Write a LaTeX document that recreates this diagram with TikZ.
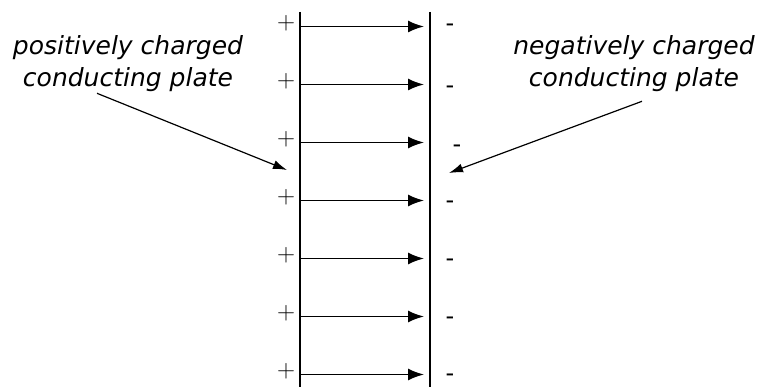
\documentclass[tikz,border=0pt]{standalone}
\usepackage{fontspec}
\newfontfamily\labelfont{DejaVu Sans}
\usetikzlibrary{arrows.meta,positioning}
\tikzset{
  plate/.style={line width=2.4pt,black},
  field/.style={-{Latex[length=16pt,width=12pt]},line width=1.7pt,black,shorten >=6pt},
  pointer/.style={-{Latex[length=14pt,width=9pt]},line width=1.2pt,black},
  plus/.style={inner sep=0pt,anchor=base,font=\fontsize{25}{25}\selectfont},
  minus/.style={inner sep=0pt,anchor=base,font=\labelfont\fontsize{24}{24}\selectfont},
  caption/.style={inner sep=0pt,align=center,font=\labelfont\itshape\fontsize{25}{32}\selectfont},
}

\begin{document}
\begin{tikzpicture}[x=1pt,y=-1pt]
  \useasboundingbox (0,0) rectangle (761,387);
  % the two plates
  \coordinate (ptop) at (300,12);
  \coordinate (pbot) at (300,387);
  \coordinate (ntop) at (430,12);
  \coordinate (nbot) at (430,387);
  \draw[plate] (ptop) -- (pbot);
  \draw[plate] (ntop) -- (nbot);
  % field lines with charges
  \foreach \k/\dx/\dy in {0/0/-1,1/0/3,2/7/4,3/0/2,4/0/2,5/0/2,6/0/1}{
    \coordinate (p\k) at (300,26.5+58*\k);
    \coordinate (n\k) at (430,26.5+58*\k);
    \draw[field] (p\k) -- (n\k);
    \node[plus] (plus\k) at ([xshift=-14pt,yshift=-3.5pt]p\k) {+};
    \node[minus] (minus\k) at ([xshift=20pt+\dx,yshift=-\dy-6.5pt]n\k) {-};
  }
  % labels
  \node[caption] (poslabel) at (128,63.5) {positively charged\\conducting plate};
  \node[caption] (neglabel) at (634,63.5) {negatively charged\\conducting plate};
  \coordinate (posend) at (287,170);
  \coordinate (negend) at (449,173);
  \draw[pointer] ([xshift=-31pt,yshift=-1.5pt]poslabel.south) -- (posend);
  \draw[pointer] ([xshift=8pt,yshift=-9.5pt]neglabel.south) -- (negend);
\end{tikzpicture}
\end{document}
